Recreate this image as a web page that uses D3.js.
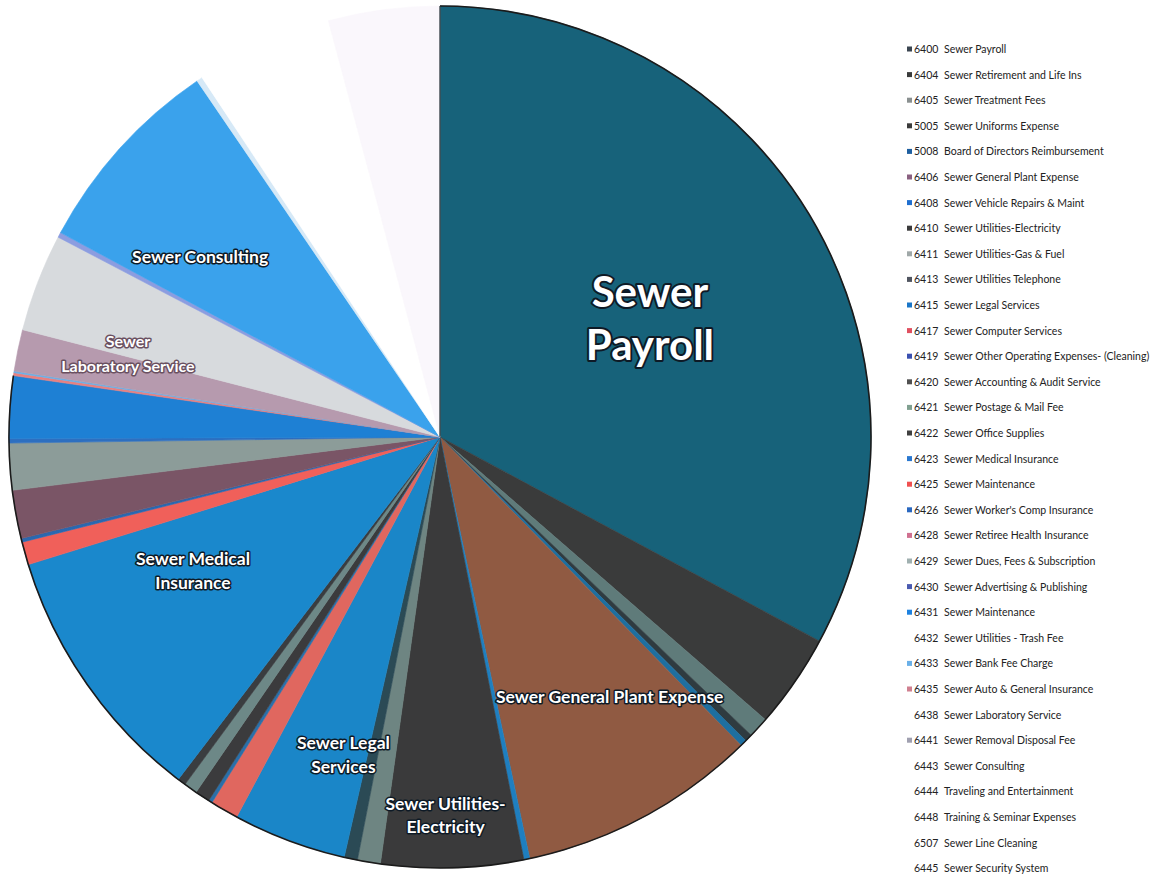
<!DOCTYPE html>
<html>
<head>
<meta charset="utf-8">
<script src="https://cdn.jsdelivr.net/npm/d3@7"></script>
<style>
  html, body { margin: 0; padding: 0; background: #ffffff; }
  svg { display: block; }
</style>
</head>
<body>
<svg id="chart" width="1164" height="878"></svg>
<script>
// ---- data ----
const codes = ["6400","6404","6405","5005","5008","6406","6408","6410","6411","6413",
  "6415","6417","6419","6420","6421","6422","6423","6425","6426","6428",
  "6429","6430","6431","6432","6433","6435","6438","6441","6443","6444",
  "6448","6507","6445"];
const categories = ["Sewer Payroll","Sewer Retirement and Life Ins","Sewer Treatment Fees",
  "Sewer Uniforms Expense","Board of Directors Reimbursement","Sewer General Plant Expense",
  "Sewer Vehicle Repairs & Maint","Sewer Utilities-Electricity","Sewer Utilities-Gas & Fuel",
  "Sewer Utilities Telephone","Sewer Legal Services","Sewer Computer Services",
  "Sewer Other Operating Expenses- (Cleaning)","Sewer Accounting & Audit Service",
  "Sewer Postage & Mail Fee","Sewer Office Supplies","Sewer Medical Insurance",
  "Sewer Maintenance","Sewer Worker's Comp Insurance","Sewer Retiree Health Insurance",
  "Sewer Dues, Fees & Subscription","Sewer Advertising & Publishing","Sewer Maintenance",
  "Sewer Utilities - Trash Fee","Sewer Bank Fee Charge","Sewer Auto & General Insurance",
  "Sewer Laboratory Service","Sewer Removal Disposal Fee","Sewer Consulting",
  "Traveling and Entertainment","Training & Seminar Expenses","Sewer Line Cleaning",
  "Sewer Security System"];
// percent share of total
const values = [32.86, 3.53, 0.78, 0.28, 0.25, 8.97, 0.22, 5.33, 0.86, 0.50,
  4.25, 1.06, 0.14, 0.56, 0.50, 0.31, 9.83, 0.86, 0.14, 1.81,
  1.75, 0.17, 2.33, 0.11, 0.06, 1.56, 3.67, 0.19, 7.61, 0.22,
  2.64, 2.50, 4.17];
const colors = ["#17627a","#3a3b3b","#5f7b7a","#2f3b40","#1e6fa0","#905a42",
  "#1f7fc0","#3a3a3b","#6e8582","#2b4a55","#1a86c8","#e0675f","#2a6fa8",
  "#3b3b3d","#6d8887","#3a3d40","#1a88cc","#f0605a","#2a68b0","#7a5566",
  "#8c9c99","#2d6fc0","#1e80d4","#e88080","#6ab0e8","#b69aae","#d7dadd",
  "#8c9de0","#3aa2ec","#d6e9f7","#ffffff","#ffffff","#faf7fc"];
const legendColors = ["#3a4550","#3a3b3b","#8a9090","#3a3a3a","#1e5fa0","#8a6080",
  "#1f6fd0","#3a3a3b","#a0a8a8","#505560","#1a76c8","#e05060","#3a50b0",
  "#505050","#80a090","#404040","#2a78d0","#f05050","#2a68c0","#d07090",
  "#a0b0b0","#4a5ab0","#1d82e0","#ffffff","#6ab0e8","#d08090","#ffffff",
  "#a0a0b0","#ffffff","#ffffff","#ffffff","#ffffff","#ffffff"];
// pie labels: category code, text lines
const labelCodes = ["6400","6406","6410","6415","6423","6443","6438"];
const labelLines = [["Sewer","Payroll"],["Sewer General Plant Expense"],
  ["Sewer Utilities-","Electricity"],["Sewer Legal","Services"],
  ["Sewer Medical","Insurance"],["Sewer Consulting"],["Sewer","Laboratory Service"]];

// ---- layout ----
const W = 1164, H = 878;
const cx = 440, cy = 437, R = 431;
const labelLayout = {   // angle offset (deg) from slice mid, radius fraction, font size, line height
  "6400": {da: 1.3, rf: 0.56, size: 42, lh: 53},
  "6406": {da: -5.0, rf: 0.72, size: 17.5, lh: 22},
  "6410": {da: 0.8, rf: 0.877, size: 17.5, lh: 23},
  "6415": {da: -3.6, rf: 0.771, size: 17.5, lh: 24},
  "6423": {da: 6.6, rf: 0.651, size: 17.5, lh: 24},
  "6443": {da: -5.1, rf: 0.696, size: 17.5, lh: 22},
  "6438": {da: -5.9, rf: 0.75, size: 16, lh: 25}
};

const svg = d3.select("#chart");
const data = codes.map((c, i) => ({code: c, name: categories[i], value: values[i], color: colors[i], lcolor: legendColors[i]}));

const pie = d3.pie().value(d => d.value).sort(null);
const arcs = pie(data);
const arc = d3.arc().innerRadius(0).outerRadius(R);

const g = svg.append("g").attr("transform", `translate(${cx},${cy})`);
g.selectAll("path.slice").data(arcs).join("path")
  .attr("class", "slice")
  .attr("d", arc)
  .attr("fill", d => d.data.color)
  .attr("stroke", d => d.data.color)
  .attr("stroke-width", 0.6);

// dark outline along the outer rim of coloured slices
const rimEnd = arcs.find(a => a.data.code === "6431").endAngle;
g.append("path")
  .attr("d", d3.arc().innerRadius(R).outerRadius(R).startAngle(0).endAngle(rimEnd)())
  .attr("fill", "none").attr("stroke", "#1b1b1b").attr("stroke-width", 1.6);
// left edge of first slice
g.append("line").attr("x1", 0).attr("y1", 0).attr("x2", 0).attr("y2", -R)
  .attr("stroke", "#1b2a30").attr("stroke-width", 1.2);

// pie labels
labelCodes.forEach((code, i) => {
  const a = arcs.find(d => d.data.code === code);
  const L = labelLayout[code];
  const mid = (a.startAngle + a.endAngle) / 2 + L.da * Math.PI / 180;
  const r = L.rf * R;
  const x = r * Math.sin(mid), y = -r * Math.cos(mid);
  const lines = labelLines[i];
  const t = g.append("text")
    .attr("text-anchor", "middle")
    .attr("font-family", "Lato, 'Open Sans', sans-serif")
    .attr("font-weight", 700)
    .attr("font-size", L.size)
    .attr("fill", "#ffffff")
    .attr("stroke", code === "6438" ? "#6a5060" : "#0e1a26")
    .attr("stroke-width", L.size > 20 ? 4 : 3)
    .attr("stroke-linejoin", "round")
    .style("paint-order", "stroke");
  lines.forEach((ln, j) => {
    t.append("tspan")
      .attr("x", x)
      .attr("y", y + (j - (lines.length - 1) / 2) * L.lh)
      .attr("dominant-baseline", "central")
      .text(ln);
  });
});

// legend
const legX = 907, legY0 = 49, legStep = 25.6;
const yLeg = d3.scalePoint().domain(codes).range([legY0, legY0 + legStep * (codes.length - 1)]);
const lg = svg.append("g");
const items = lg.selectAll("g.item").data(data).join("g").attr("class", "item")
  .attr("transform", d => `translate(${legX},${yLeg(d.code)})`);
items.append("rect").attr("x", 0).attr("y", -2.5).attr("width", 5).attr("height", 5)
  .attr("fill", d => d.lcolor);
items.append("text").attr("x", 7).attr("y", 0).attr("dominant-baseline", "central")
  .attr("font-family", "Lato, sans-serif").attr("font-size", 10.5).attr("fill", "#222")
  .text(d => d.code);
items.append("text").attr("x", 37).attr("y", 0).attr("dominant-baseline", "central")
  .attr("font-family", "Lato, sans-serif").attr("font-size", 10.5).attr("fill", "#222")
  .text(d => d.name);
</script>
</body>
</html>
